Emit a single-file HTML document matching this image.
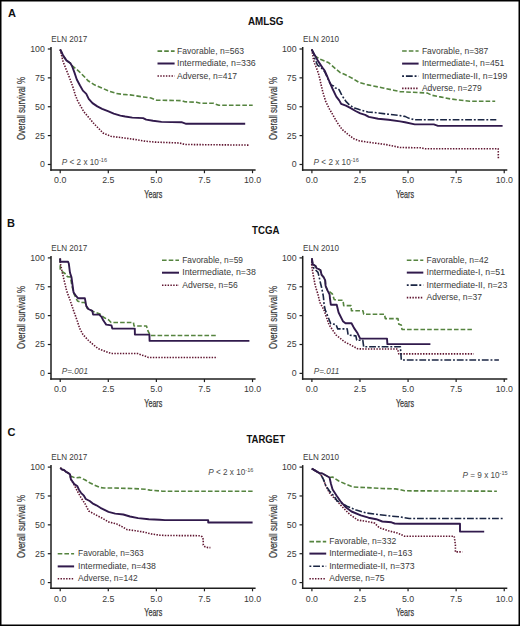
<!DOCTYPE html>
<html><head><meta charset="utf-8"><style>
html,body{margin:0;padding:0;background:#fff;}
svg{display:block;}
text{font-family:"Liberation Sans", sans-serif;}
.tk{font-size:8.8px;fill:#3a3a3a;}
.ttl{font-size:10.8px;fill:#3a3a3a;stroke:#3a3a3a;stroke-width:0.25px;}
.eln{font-size:8.7px;fill:#3a3a3a;}
.lg{font-size:8.5px;fill:#3a3a3a;}
.pv{font-size:8.2px;fill:#4a4a4a;}
.pl{font-size:11px;font-weight:bold;fill:#111;}
.tt{font-size:10.4px;font-weight:bold;fill:#111;}
</style></head><body>
<svg width="520" height="626" viewBox="0 0 520 626">
<rect x="0.75" y="0.75" width="518.5" height="624.5" fill="#fff" stroke="#000" stroke-width="1.5"/>
<text x="7.9" y="17.0" class="pl">A</text>
<text x="247.95" y="25.20" class="tt" textLength="35.5" lengthAdjust="spacingAndGlyphs">AMLSG</text>
<text x="6.9" y="226.6" class="pl">B</text>
<text x="252.00" y="234.10" class="tt" textLength="27.4" lengthAdjust="spacingAndGlyphs">TCGA</text>
<text x="7.6" y="436.3" class="pl">C</text>
<text x="246.40" y="443.30" class="tt" textLength="38.6" lengthAdjust="spacingAndGlyphs">TARGET</text>
<line x1="51" y1="47" x2="51" y2="170.85" stroke="#1e1e1e" stroke-width="1.5"/>
<line x1="50.25" y1="170.1" x2="255.6" y2="170.1" stroke="#1e1e1e" stroke-width="1.5"/>
<line x1="47.8" y1="49.00" x2="51" y2="49.00" stroke="#1e1e1e" stroke-width="1.2"/>
<text x="44.9" y="51.90" text-anchor="end" class="tk">100</text>
<line x1="47.8" y1="77.87" x2="51" y2="77.87" stroke="#1e1e1e" stroke-width="1.2"/>
<text x="44.9" y="80.77" text-anchor="end" class="tk">75</text>
<line x1="47.8" y1="106.74" x2="51" y2="106.74" stroke="#1e1e1e" stroke-width="1.2"/>
<text x="44.9" y="109.64" text-anchor="end" class="tk">50</text>
<line x1="47.8" y1="135.61" x2="51" y2="135.61" stroke="#1e1e1e" stroke-width="1.2"/>
<text x="44.9" y="138.51" text-anchor="end" class="tk">25</text>
<line x1="47.8" y1="164.48" x2="51" y2="164.48" stroke="#1e1e1e" stroke-width="1.2"/>
<text x="44.9" y="167.38" text-anchor="end" class="tk">0</text>
<line x1="60.20" y1="170.1" x2="60.20" y2="173.2" stroke="#1e1e1e" stroke-width="1.2"/>
<text x="60.20" y="183.40" text-anchor="middle" class="tk">0.0</text>
<line x1="108.28" y1="170.1" x2="108.28" y2="173.2" stroke="#1e1e1e" stroke-width="1.2"/>
<text x="108.28" y="183.40" text-anchor="middle" class="tk">2.5</text>
<line x1="156.36" y1="170.1" x2="156.36" y2="173.2" stroke="#1e1e1e" stroke-width="1.2"/>
<text x="156.36" y="183.40" text-anchor="middle" class="tk">5.0</text>
<line x1="204.44" y1="170.1" x2="204.44" y2="173.2" stroke="#1e1e1e" stroke-width="1.2"/>
<text x="204.44" y="183.40" text-anchor="middle" class="tk">7.5</text>
<line x1="252.52" y1="170.1" x2="252.52" y2="173.2" stroke="#1e1e1e" stroke-width="1.2"/>
<text x="252.52" y="183.40" text-anchor="middle" class="tk">10.0</text>
<text x="153.3" y="197.6" text-anchor="middle" class="ttl" textLength="18" lengthAdjust="spacingAndGlyphs">Years</text>
<text transform="translate(25.3,108.5) rotate(-90)" x="0" y="0" text-anchor="middle" class="ttl" textLength="63" lengthAdjust="spacingAndGlyphs">Overall survival %</text>
<text x="51.3" y="41.8" class="eln" textLength="36" lengthAdjust="spacingAndGlyphs">ELN 2017</text>
<line x1="302.7" y1="47" x2="302.7" y2="170.85" stroke="#1e1e1e" stroke-width="1.5"/>
<line x1="301.95" y1="170.1" x2="507.29999999999995" y2="170.1" stroke="#1e1e1e" stroke-width="1.5"/>
<line x1="299.5" y1="49.00" x2="302.7" y2="49.00" stroke="#1e1e1e" stroke-width="1.2"/>
<text x="296.59999999999997" y="51.90" text-anchor="end" class="tk">100</text>
<line x1="299.5" y1="77.87" x2="302.7" y2="77.87" stroke="#1e1e1e" stroke-width="1.2"/>
<text x="296.59999999999997" y="80.77" text-anchor="end" class="tk">75</text>
<line x1="299.5" y1="106.74" x2="302.7" y2="106.74" stroke="#1e1e1e" stroke-width="1.2"/>
<text x="296.59999999999997" y="109.64" text-anchor="end" class="tk">50</text>
<line x1="299.5" y1="135.61" x2="302.7" y2="135.61" stroke="#1e1e1e" stroke-width="1.2"/>
<text x="296.59999999999997" y="138.51" text-anchor="end" class="tk">25</text>
<line x1="299.5" y1="164.48" x2="302.7" y2="164.48" stroke="#1e1e1e" stroke-width="1.2"/>
<text x="296.59999999999997" y="167.38" text-anchor="end" class="tk">0</text>
<line x1="311.90" y1="170.1" x2="311.90" y2="173.2" stroke="#1e1e1e" stroke-width="1.2"/>
<text x="311.90" y="183.40" text-anchor="middle" class="tk">0.0</text>
<line x1="359.98" y1="170.1" x2="359.98" y2="173.2" stroke="#1e1e1e" stroke-width="1.2"/>
<text x="359.98" y="183.40" text-anchor="middle" class="tk">2.5</text>
<line x1="408.06" y1="170.1" x2="408.06" y2="173.2" stroke="#1e1e1e" stroke-width="1.2"/>
<text x="408.06" y="183.40" text-anchor="middle" class="tk">5.0</text>
<line x1="456.14" y1="170.1" x2="456.14" y2="173.2" stroke="#1e1e1e" stroke-width="1.2"/>
<text x="456.14" y="183.40" text-anchor="middle" class="tk">7.5</text>
<line x1="504.22" y1="170.1" x2="504.22" y2="173.2" stroke="#1e1e1e" stroke-width="1.2"/>
<text x="504.22" y="183.40" text-anchor="middle" class="tk">10.0</text>
<text x="405.0" y="197.6" text-anchor="middle" class="ttl" textLength="18" lengthAdjust="spacingAndGlyphs">Years</text>
<text transform="translate(277.0,108.5) rotate(-90)" x="0" y="0" text-anchor="middle" class="ttl" textLength="63" lengthAdjust="spacingAndGlyphs">Overall survival %</text>
<text x="303.0" y="41.8" class="eln" textLength="36" lengthAdjust="spacingAndGlyphs">ELN 2010</text>
<line x1="51" y1="255.9" x2="51" y2="379.75" stroke="#1e1e1e" stroke-width="1.5"/>
<line x1="50.25" y1="379.0" x2="255.6" y2="379.0" stroke="#1e1e1e" stroke-width="1.5"/>
<line x1="47.8" y1="257.90" x2="51" y2="257.90" stroke="#1e1e1e" stroke-width="1.2"/>
<text x="44.9" y="260.80" text-anchor="end" class="tk">100</text>
<line x1="47.8" y1="286.77" x2="51" y2="286.77" stroke="#1e1e1e" stroke-width="1.2"/>
<text x="44.9" y="289.67" text-anchor="end" class="tk">75</text>
<line x1="47.8" y1="315.64" x2="51" y2="315.64" stroke="#1e1e1e" stroke-width="1.2"/>
<text x="44.9" y="318.54" text-anchor="end" class="tk">50</text>
<line x1="47.8" y1="344.51" x2="51" y2="344.51" stroke="#1e1e1e" stroke-width="1.2"/>
<text x="44.9" y="347.41" text-anchor="end" class="tk">25</text>
<line x1="47.8" y1="373.38" x2="51" y2="373.38" stroke="#1e1e1e" stroke-width="1.2"/>
<text x="44.9" y="376.28" text-anchor="end" class="tk">0</text>
<line x1="60.20" y1="379.0" x2="60.20" y2="382.1" stroke="#1e1e1e" stroke-width="1.2"/>
<text x="60.20" y="392.30" text-anchor="middle" class="tk">0.0</text>
<line x1="108.28" y1="379.0" x2="108.28" y2="382.1" stroke="#1e1e1e" stroke-width="1.2"/>
<text x="108.28" y="392.30" text-anchor="middle" class="tk">2.5</text>
<line x1="156.36" y1="379.0" x2="156.36" y2="382.1" stroke="#1e1e1e" stroke-width="1.2"/>
<text x="156.36" y="392.30" text-anchor="middle" class="tk">5.0</text>
<line x1="204.44" y1="379.0" x2="204.44" y2="382.1" stroke="#1e1e1e" stroke-width="1.2"/>
<text x="204.44" y="392.30" text-anchor="middle" class="tk">7.5</text>
<line x1="252.52" y1="379.0" x2="252.52" y2="382.1" stroke="#1e1e1e" stroke-width="1.2"/>
<text x="252.52" y="392.30" text-anchor="middle" class="tk">10.0</text>
<text x="153.3" y="406.5" text-anchor="middle" class="ttl" textLength="18" lengthAdjust="spacingAndGlyphs">Years</text>
<text transform="translate(25.3,317.4) rotate(-90)" x="0" y="0" text-anchor="middle" class="ttl" textLength="63" lengthAdjust="spacingAndGlyphs">Overall survival %</text>
<text x="51.3" y="250.7" class="eln" textLength="36" lengthAdjust="spacingAndGlyphs">ELN 2017</text>
<line x1="302.7" y1="255.9" x2="302.7" y2="379.75" stroke="#1e1e1e" stroke-width="1.5"/>
<line x1="301.95" y1="379.0" x2="507.29999999999995" y2="379.0" stroke="#1e1e1e" stroke-width="1.5"/>
<line x1="299.5" y1="257.90" x2="302.7" y2="257.90" stroke="#1e1e1e" stroke-width="1.2"/>
<text x="296.59999999999997" y="260.80" text-anchor="end" class="tk">100</text>
<line x1="299.5" y1="286.77" x2="302.7" y2="286.77" stroke="#1e1e1e" stroke-width="1.2"/>
<text x="296.59999999999997" y="289.67" text-anchor="end" class="tk">75</text>
<line x1="299.5" y1="315.64" x2="302.7" y2="315.64" stroke="#1e1e1e" stroke-width="1.2"/>
<text x="296.59999999999997" y="318.54" text-anchor="end" class="tk">50</text>
<line x1="299.5" y1="344.51" x2="302.7" y2="344.51" stroke="#1e1e1e" stroke-width="1.2"/>
<text x="296.59999999999997" y="347.41" text-anchor="end" class="tk">25</text>
<line x1="299.5" y1="373.38" x2="302.7" y2="373.38" stroke="#1e1e1e" stroke-width="1.2"/>
<text x="296.59999999999997" y="376.28" text-anchor="end" class="tk">0</text>
<line x1="311.90" y1="379.0" x2="311.90" y2="382.1" stroke="#1e1e1e" stroke-width="1.2"/>
<text x="311.90" y="392.30" text-anchor="middle" class="tk">0.0</text>
<line x1="359.98" y1="379.0" x2="359.98" y2="382.1" stroke="#1e1e1e" stroke-width="1.2"/>
<text x="359.98" y="392.30" text-anchor="middle" class="tk">2.5</text>
<line x1="408.06" y1="379.0" x2="408.06" y2="382.1" stroke="#1e1e1e" stroke-width="1.2"/>
<text x="408.06" y="392.30" text-anchor="middle" class="tk">5.0</text>
<line x1="456.14" y1="379.0" x2="456.14" y2="382.1" stroke="#1e1e1e" stroke-width="1.2"/>
<text x="456.14" y="392.30" text-anchor="middle" class="tk">7.5</text>
<line x1="504.22" y1="379.0" x2="504.22" y2="382.1" stroke="#1e1e1e" stroke-width="1.2"/>
<text x="504.22" y="392.30" text-anchor="middle" class="tk">10.0</text>
<text x="405.0" y="406.5" text-anchor="middle" class="ttl" textLength="18" lengthAdjust="spacingAndGlyphs">Years</text>
<text transform="translate(277.0,317.4) rotate(-90)" x="0" y="0" text-anchor="middle" class="ttl" textLength="63" lengthAdjust="spacingAndGlyphs">Overall survival %</text>
<text x="303.0" y="250.7" class="eln" textLength="36" lengthAdjust="spacingAndGlyphs">ELN 2010</text>
<line x1="51" y1="465.1" x2="51" y2="588.95" stroke="#1e1e1e" stroke-width="1.5"/>
<line x1="50.25" y1="588.2" x2="255.6" y2="588.2" stroke="#1e1e1e" stroke-width="1.5"/>
<line x1="47.8" y1="467.10" x2="51" y2="467.10" stroke="#1e1e1e" stroke-width="1.2"/>
<text x="44.9" y="470.00" text-anchor="end" class="tk">100</text>
<line x1="47.8" y1="495.97" x2="51" y2="495.97" stroke="#1e1e1e" stroke-width="1.2"/>
<text x="44.9" y="498.87" text-anchor="end" class="tk">75</text>
<line x1="47.8" y1="524.84" x2="51" y2="524.84" stroke="#1e1e1e" stroke-width="1.2"/>
<text x="44.9" y="527.74" text-anchor="end" class="tk">50</text>
<line x1="47.8" y1="553.71" x2="51" y2="553.71" stroke="#1e1e1e" stroke-width="1.2"/>
<text x="44.9" y="556.61" text-anchor="end" class="tk">25</text>
<line x1="47.8" y1="582.58" x2="51" y2="582.58" stroke="#1e1e1e" stroke-width="1.2"/>
<text x="44.9" y="585.48" text-anchor="end" class="tk">0</text>
<line x1="60.20" y1="588.2" x2="60.20" y2="591.3" stroke="#1e1e1e" stroke-width="1.2"/>
<text x="60.20" y="601.50" text-anchor="middle" class="tk">0.0</text>
<line x1="108.28" y1="588.2" x2="108.28" y2="591.3" stroke="#1e1e1e" stroke-width="1.2"/>
<text x="108.28" y="601.50" text-anchor="middle" class="tk">2.5</text>
<line x1="156.36" y1="588.2" x2="156.36" y2="591.3" stroke="#1e1e1e" stroke-width="1.2"/>
<text x="156.36" y="601.50" text-anchor="middle" class="tk">5.0</text>
<line x1="204.44" y1="588.2" x2="204.44" y2="591.3" stroke="#1e1e1e" stroke-width="1.2"/>
<text x="204.44" y="601.50" text-anchor="middle" class="tk">7.5</text>
<line x1="252.52" y1="588.2" x2="252.52" y2="591.3" stroke="#1e1e1e" stroke-width="1.2"/>
<text x="252.52" y="601.50" text-anchor="middle" class="tk">10.0</text>
<text x="153.3" y="615.7" text-anchor="middle" class="ttl" textLength="18" lengthAdjust="spacingAndGlyphs">Years</text>
<text transform="translate(25.3,526.6) rotate(-90)" x="0" y="0" text-anchor="middle" class="ttl" textLength="63" lengthAdjust="spacingAndGlyphs">Overall survival %</text>
<text x="51.3" y="459.90000000000003" class="eln" textLength="36" lengthAdjust="spacingAndGlyphs">ELN 2017</text>
<line x1="302.7" y1="465.1" x2="302.7" y2="588.95" stroke="#1e1e1e" stroke-width="1.5"/>
<line x1="301.95" y1="588.2" x2="507.29999999999995" y2="588.2" stroke="#1e1e1e" stroke-width="1.5"/>
<line x1="299.5" y1="467.10" x2="302.7" y2="467.10" stroke="#1e1e1e" stroke-width="1.2"/>
<text x="296.59999999999997" y="470.00" text-anchor="end" class="tk">100</text>
<line x1="299.5" y1="495.97" x2="302.7" y2="495.97" stroke="#1e1e1e" stroke-width="1.2"/>
<text x="296.59999999999997" y="498.87" text-anchor="end" class="tk">75</text>
<line x1="299.5" y1="524.84" x2="302.7" y2="524.84" stroke="#1e1e1e" stroke-width="1.2"/>
<text x="296.59999999999997" y="527.74" text-anchor="end" class="tk">50</text>
<line x1="299.5" y1="553.71" x2="302.7" y2="553.71" stroke="#1e1e1e" stroke-width="1.2"/>
<text x="296.59999999999997" y="556.61" text-anchor="end" class="tk">25</text>
<line x1="299.5" y1="582.58" x2="302.7" y2="582.58" stroke="#1e1e1e" stroke-width="1.2"/>
<text x="296.59999999999997" y="585.48" text-anchor="end" class="tk">0</text>
<line x1="311.90" y1="588.2" x2="311.90" y2="591.3" stroke="#1e1e1e" stroke-width="1.2"/>
<text x="311.90" y="601.50" text-anchor="middle" class="tk">0.0</text>
<line x1="359.98" y1="588.2" x2="359.98" y2="591.3" stroke="#1e1e1e" stroke-width="1.2"/>
<text x="359.98" y="601.50" text-anchor="middle" class="tk">2.5</text>
<line x1="408.06" y1="588.2" x2="408.06" y2="591.3" stroke="#1e1e1e" stroke-width="1.2"/>
<text x="408.06" y="601.50" text-anchor="middle" class="tk">5.0</text>
<line x1="456.14" y1="588.2" x2="456.14" y2="591.3" stroke="#1e1e1e" stroke-width="1.2"/>
<text x="456.14" y="601.50" text-anchor="middle" class="tk">7.5</text>
<line x1="504.22" y1="588.2" x2="504.22" y2="591.3" stroke="#1e1e1e" stroke-width="1.2"/>
<text x="504.22" y="601.50" text-anchor="middle" class="tk">10.0</text>
<text x="405.0" y="615.7" text-anchor="middle" class="ttl" textLength="18" lengthAdjust="spacingAndGlyphs">Years</text>
<text transform="translate(277.0,526.6) rotate(-90)" x="0" y="0" text-anchor="middle" class="ttl" textLength="63" lengthAdjust="spacingAndGlyphs">Overall survival %</text>
<text x="303.0" y="459.90000000000003" class="eln" textLength="36" lengthAdjust="spacingAndGlyphs">ELN 2010</text>
<polyline points="60.2,49.5 61.5,52.0 63.2,55.6 66.4,60.4 70.4,63.2 72.0,65.6 79.2,71.6 85.6,78.0 87.7,80.5 94.4,84.8 101.2,87.7 108.8,91.1 116.5,93.5 123.3,94.4 130.0,94.9 143.5,97.0 151.0,98.0 156.3,100.1 181.7,100.7 184.9,101.8 196.5,102.2 200.8,103.3 213.5,103.3 218.8,105.3 252.7,105.3" fill="none" stroke="#55843f" stroke-width="1.6" stroke-dasharray="4.6,2.1" stroke-linejoin="round"/>
<polyline points="60.2,49.5 60.8,52.4 63.2,62.0 66.4,70.0 69.6,78.0 72.8,86.7 75.2,94.7 77.5,100.5 80.0,105.0 83.8,111.7 89.6,118.5 94.4,124.2 99.2,129.0 103.0,133.0 110.8,136.3 122.3,137.7 135.8,139.6 145.4,141.2 155.0,142.1 179.6,143.0 184.9,144.5 248.8,145.1" fill="none" stroke="#601631" stroke-width="1.6" stroke-dasharray="1.45,1.35" stroke-linejoin="round"/>
<polyline points="60.2,49.5 61.5,52.0 63.2,55.6 66.4,60.4 70.4,63.2 72.0,66.0 74.4,72.4 76.8,79.5 80.0,85.5 82.9,90.6 86.3,93.9 88.7,98.8 92.5,103.1 97.3,106.4 102.1,108.8 107.9,111.2 113.7,113.7 120.4,115.6 125.2,116.5 132.3,117.6 143.1,118.1 146.2,119.6 153.0,120.8 161.5,121.9 181.5,122.2 186.2,123.8 245.2,123.8" fill="none" stroke="#311a4c" stroke-width="1.9" stroke-linejoin="round"/>
<polyline points="311.7,49.5 313.5,53.0 315.6,56.4 320.0,59.2 324.0,60.8 328.8,62.8 332.0,65.6 336.0,69.2 340.0,72.4 345.5,74.8 352.7,78.5 359.1,82.5 367.9,84.9 381.9,87.7 393.5,90.2 400.0,91.6 427.5,93.1 431.7,95.2 440.2,96.9 450.8,99.0 469.8,101.2 495.2,101.2" fill="none" stroke="#55843f" stroke-width="1.6" stroke-dasharray="4.6,2.1" stroke-linejoin="round"/>
<polyline points="311.7,49.5 312.5,54.0 313.2,58.0 314.0,62.0 316.0,66.8 318.4,73.2 320.0,79.5 320.9,84.0 322.8,92.0 325.7,101.4 329.5,109.1 333.4,115.8 337.2,122.5 342.0,129.3 346.9,133.5 353.8,138.8 359.6,140.9 368.8,142.3 378.1,143.5 386.2,144.6 394.2,146.3 400.0,147.5 421.0,147.8 425.0,148.8 498.2,148.8 498.4,159.3" fill="none" stroke="#601631" stroke-width="1.6" stroke-dasharray="1.45,1.35" stroke-linejoin="round"/>
<polyline points="311.7,49.5 313.5,53.0 314.8,58.5 317.6,65.2 319.5,66.5 322.4,68.8 324.8,72.0 327.2,77.2 329.6,82.5 331.2,85.1 333.6,86.0 335.3,87.9 337.6,88.5 339.2,89.8 342.0,95.6 345.9,101.4 349.7,105.2 354.5,108.1 359.3,109.6 364.2,111.0 368.0,112.0 374.6,112.5 386.2,114.0 397.7,115.2 402.0,116.0 405.0,116.4 408.5,118.1 414.8,119.8 496.3,119.8" fill="none" stroke="#1b2644" stroke-width="1.6" stroke-dasharray="6.8,1.9,1.9,1.9" stroke-linejoin="round"/>
<polyline points="311.7,49.5 313.5,53.0 315.6,56.4 317.6,60.4 322.4,67.6 324.8,70.8 327.2,76.4 329.6,82.0 332.4,88.5 336.3,96.6 339.2,100.4 341.1,103.8 345.9,105.7 350.7,108.1 355.5,111.0 360.3,113.4 365.1,114.8 368.8,116.9 378.1,118.7 388.5,119.8 400.0,121.4 405.0,122.3 414.8,124.4 433.8,124.4 438.0,125.9 502.6,125.9" fill="none" stroke="#311a4c" stroke-width="1.9" stroke-linejoin="round"/>
<line x1="157.5" y1="51.1" x2="174.6" y2="51.1" stroke="#55843f" stroke-width="1.6" stroke-dasharray="4.6,2.1"/>
<text x="177.0" y="53.60" class="lg" textLength="67" lengthAdjust="spacingAndGlyphs">Favorable, n=563</text>
<line x1="157.5" y1="63.5" x2="174.6" y2="63.5" stroke="#311a4c" stroke-width="2.0"/>
<text x="177.0" y="66.00" class="lg" textLength="78.8" lengthAdjust="spacingAndGlyphs">Intermediate, n=336</text>
<line x1="157.5" y1="76.05" x2="174.6" y2="76.05" stroke="#601631" stroke-width="1.6" stroke-dasharray="1.45,1.35"/>
<text x="177.0" y="78.55" class="lg" textLength="60" lengthAdjust="spacingAndGlyphs">Adverse, n=417</text>
<line x1="402.1" y1="51.0" x2="418.6" y2="51.0" stroke="#55843f" stroke-width="1.6" stroke-dasharray="4.6,2.1"/>
<text x="421.9" y="53.50" class="lg" textLength="66.4" lengthAdjust="spacingAndGlyphs">Favorable, n=387</text>
<line x1="402.1" y1="63.6" x2="418.6" y2="63.6" stroke="#311a4c" stroke-width="2.0"/>
<text x="421.9" y="66.10" class="lg" textLength="82.5" lengthAdjust="spacingAndGlyphs">Intermediate-I, n=451</text>
<line x1="402.1" y1="76.1" x2="418.6" y2="76.1" stroke="#1b2644" stroke-width="1.6" stroke-dasharray="6.8,1.9,1.9,1.9" stroke-dashoffset="8.7"/>
<text x="421.9" y="78.60" class="lg" textLength="85.4" lengthAdjust="spacingAndGlyphs">Intermediate-II, n=199</text>
<line x1="402.1" y1="88.4" x2="418.6" y2="88.4" stroke="#601631" stroke-width="1.6" stroke-dasharray="1.45,1.35"/>
<text x="421.9" y="90.90" class="lg" textLength="59.8" lengthAdjust="spacingAndGlyphs">Adverse, n=279</text>
<text x="61.8" y="165.0" class="pv"><tspan font-style="italic">P</tspan> &lt; 2 x 10<tspan dy="-3" font-size="5.6">-16</tspan></text>
<text x="313.6" y="165.0" class="pv"><tspan font-style="italic">P</tspan> &lt; 2 x 10<tspan dy="-3" font-size="5.6">-16</tspan></text>
<polyline points="60.2,258.5 60.2,269.0 62.0,271.5 65.0,273.5 67.3,276.6 70.4,277.0 72.0,286.0 74.0,294.0 77.5,301.0 82.0,302.5 85.0,302.5 87.0,308.0 93.0,311.5 100.0,314.0 104.4,317.8 108.5,319.8 111.1,322.5 133.5,322.5 134.0,326.0 146.5,326.0 148.0,331.0 150.4,335.5 217.7,335.5" fill="none" stroke="#55843f" stroke-width="1.6" stroke-dasharray="4.6,2.1" stroke-linejoin="round"/>
<polyline points="60.2,258.5 60.5,264.0 62.0,271.0 64.0,280.0 66.7,291.0 70.0,300.0 73.5,310.4 77.3,321.0 79.5,328.0 83.0,334.6 88.0,340.0 92.7,344.2 98.0,348.5 105.4,351.5 111.5,353.5 137.7,353.5 141.0,354.8 145.4,356.2 148.5,357.5 217.3,357.5" fill="none" stroke="#601631" stroke-width="1.6" stroke-dasharray="1.45,1.35" stroke-linejoin="round"/>
<polyline points="60.2,258.5 60.2,261.8 68.1,261.8 68.8,263.5 70.0,272.8 71.5,277.4 73.5,292.2 76.2,296.2 78.2,298.3 84.9,298.3 86.2,305.7 88.3,309.0 92.3,310.8 93.1,314.6 99.2,314.6 101.5,316.9 103.1,320.0 104.6,322.3 106.2,324.6 111.5,325.4 112.3,328.6 134.8,328.6 134.9,334.6 149.4,334.6 149.6,340.9 249.4,340.9" fill="none" stroke="#311a4c" stroke-width="1.9" stroke-linejoin="round"/>
<polyline points="311.9,258.5 312.8,264.4 315.6,266.0 316.4,268.0 320.4,270.0 321.6,274.8 323.6,277.2 325.2,280.4 325.6,286.0 327.6,290.5 329.2,291.5 332.4,294.0 334.2,299.5 336.4,300.3 343.0,300.3 343.7,305.6 351.0,305.6 351.5,310.8 363.0,310.8 363.7,314.2 384.5,314.2 385.3,318.6 398.0,318.6 398.8,324.2 401.3,325.0 402.0,329.5 471.9,329.5" fill="none" stroke="#55843f" stroke-width="1.6" stroke-dasharray="4.6,2.1" stroke-linejoin="round"/>
<polyline points="311.9,258.5 311.7,264.4 312.4,270.0 313.2,274.8 314.0,278.8 314.8,283.6 316.0,288.3 317.6,293.1 318.8,297.9 320.0,302.7 323.8,309.5 329.0,324.6 336.0,335.0 344.6,341.9 351.5,345.4 357.6,348.8 367.0,349.0 397.5,349.0 398.8,353.9 473.8,353.9" fill="none" stroke="#601631" stroke-width="1.6" stroke-dasharray="1.45,1.35" stroke-linejoin="round"/>
<polyline points="311.9,258.5 312.4,264.0 314.0,268.4 318.0,272.4 319.2,277.2 320.4,282.8 321.6,287.5 323.2,295.5 323.6,298.7 324.0,304.0 325.2,309.9 330.8,323.7 336.0,324.6 337.7,328.9 347.2,328.9 348.1,335.0 355.9,335.9 356.7,340.2 362.8,340.2 363.7,346.8 400.4,346.8 401.3,360.0 498.9,360.0" fill="none" stroke="#1b2644" stroke-width="1.6" stroke-dasharray="6.8,1.9,1.9,1.9" stroke-linejoin="round"/>
<polyline points="311.9,258.5 312.8,264.4 315.6,266.0 316.4,268.0 320.4,270.0 321.6,274.8 323.6,277.2 325.2,280.4 325.6,286.0 327.6,290.7 329.6,294.7 330.0,298.7 330.8,304.7 336.7,304.7 338.6,312.5 342.9,321.2 345.5,323.2 351.5,323.2 354.1,328.1 357.6,333.3 360.2,338.6 387.0,338.6 387.4,344.1 430.4,344.1" fill="none" stroke="#311a4c" stroke-width="1.9" stroke-linejoin="round"/>
<line x1="162.0" y1="260.2" x2="179.0" y2="260.2" stroke="#55843f" stroke-width="1.6" stroke-dasharray="4.6,2.1"/>
<text x="182.2" y="262.70" class="lg" textLength="60.8" lengthAdjust="spacingAndGlyphs">Favorable, n=59</text>
<line x1="162.0" y1="272.7" x2="179.0" y2="272.7" stroke="#311a4c" stroke-width="2.0"/>
<text x="182.2" y="275.20" class="lg" textLength="73.6" lengthAdjust="spacingAndGlyphs">Intermediate, n=38</text>
<line x1="162.0" y1="285.2" x2="179.0" y2="285.2" stroke="#601631" stroke-width="1.6" stroke-dasharray="1.45,1.35"/>
<text x="182.2" y="287.70" class="lg" textLength="55.6" lengthAdjust="spacingAndGlyphs">Adverse, n=56</text>
<line x1="406.8" y1="260.2" x2="423.3" y2="260.2" stroke="#55843f" stroke-width="1.6" stroke-dasharray="4.6,2.1"/>
<text x="426.5" y="262.70" class="lg" textLength="61.9" lengthAdjust="spacingAndGlyphs">Favorable, n=42</text>
<line x1="406.8" y1="272.6" x2="423.3" y2="272.6" stroke="#311a4c" stroke-width="2.0"/>
<text x="426.5" y="275.10" class="lg" textLength="78.5" lengthAdjust="spacingAndGlyphs">Intermediate-I, n=51</text>
<line x1="406.8" y1="285.1" x2="423.3" y2="285.1" stroke="#1b2644" stroke-width="1.6" stroke-dasharray="6.8,1.9,1.9,1.9" stroke-dashoffset="8.7"/>
<text x="426.5" y="287.60" class="lg" textLength="80.8" lengthAdjust="spacingAndGlyphs">Intermediate-II, n=23</text>
<line x1="406.8" y1="297.6" x2="423.3" y2="297.6" stroke="#601631" stroke-width="1.6" stroke-dasharray="1.45,1.35"/>
<text x="426.5" y="300.10" class="lg" textLength="55.5" lengthAdjust="spacingAndGlyphs">Adverse, n=37</text>
<text x="61.8" y="373.8" class="pv" font-style="italic">P=.001</text>
<text x="313.8" y="374.2" class="pv" font-style="italic">P=.011</text>
<polyline points="60.3,467.8 62.0,469.5 64.0,470.0 66.0,471.8 68.5,473.1 70.0,474.5 70.4,476.0 75.2,477.9 80.0,477.4 84.8,479.8 89.7,482.7 94.5,485.1 100.2,487.5 104.0,488.0 112.7,488.0 131.9,488.5 145.4,489.3 150.0,490.1 162.7,491.2 252.6,491.2" fill="none" stroke="#55843f" stroke-width="1.6" stroke-dasharray="4.6,2.1" stroke-linejoin="round"/>
<polyline points="60.3,467.8 62.0,469.5 64.0,470.0 66.0,471.8 68.5,473.1 70.0,474.5 70.9,479.3 74.3,485.1 77.2,490.8 81.0,497.6 84.8,503.3 88.7,511.0 95.0,514.5 101.7,517.9 108.5,521.9 116.5,523.9 121.9,526.6 127.3,529.7 135.4,530.7 143.5,532.0 151.5,534.0 159.6,535.1 165.0,535.5 200.3,535.7 202.3,536.8 203.2,539.4 203.3,545.0 205.2,546.9 208.1,547.6 210.4,547.6" fill="none" stroke="#601631" stroke-width="1.6" stroke-dasharray="1.45,1.35" stroke-linejoin="round"/>
<polyline points="60.3,467.8 62.0,469.5 64.0,470.0 66.0,471.8 68.5,473.1 70.0,474.5 70.9,479.3 74.3,484.1 77.2,486.0 79.1,489.9 81.0,492.8 83.9,495.7 85.8,499.0 89.7,501.0 92.5,503.3 96.4,505.3 100.4,507.8 108.5,511.8 115.2,513.6 123.3,514.5 130.0,516.5 138.1,518.1 148.8,519.2 159.6,519.7 165.0,520.1 208.2,520.1 208.2,522.5 252.6,522.5" fill="none" stroke="#311a4c" stroke-width="1.9" stroke-linejoin="round"/>
<polyline points="311.8,468.6 320.3,473.6 322.0,473.2 329.5,477.5 332.6,477.0 338.8,481.0 347.2,484.8 353.1,487.0 366.5,487.6 381.9,488.5 395.4,488.9 400.0,489.6 404.6,490.8 496.9,491.2" fill="none" stroke="#55843f" stroke-width="1.6" stroke-dasharray="4.6,2.1" stroke-linejoin="round"/>
<polyline points="311.8,468.6 320.3,473.6 323.4,479.4 325.7,485.5 330.0,493.8 336.2,500.0 342.3,506.9 350.0,514.6 357.7,520.0 366.9,521.5 374.6,523.1 379.2,527.7 388.5,530.8 397.7,533.1 404.6,536.2 454.2,536.2 455.4,545.0 455.4,551.9 462.3,551.9" fill="none" stroke="#601631" stroke-width="1.6" stroke-dasharray="1.45,1.35" stroke-linejoin="round"/>
<polyline points="311.8,468.6 320.3,473.6 323.4,479.4 325.7,485.5 329.5,491.0 334.2,496.3 337.2,501.0 339.2,501.8 346.9,506.2 356.2,510.0 366.9,513.1 379.2,514.6 391.5,516.2 400.0,516.9 409.2,518.5 503.9,518.5" fill="none" stroke="#1b2644" stroke-width="1.6" stroke-dasharray="6.8,1.9,1.9,1.9" stroke-linejoin="round"/>
<polyline points="311.8,468.6 320.3,473.6 322.0,473.2 329.5,477.5 331.0,484.0 332.6,489.4 336.5,495.5 340.3,501.0 345.4,506.9 351.5,511.5 360.8,515.4 368.5,517.7 376.2,519.2 382.3,521.5 391.5,522.3 394.6,523.5 400.0,523.8 460.0,523.8 460.0,531.6 484.2,531.6" fill="none" stroke="#311a4c" stroke-width="1.9" stroke-linejoin="round"/>
<line x1="57.7" y1="553.8" x2="74.1" y2="553.8" stroke="#55843f" stroke-width="1.6" stroke-dasharray="4.6,2.1"/>
<text x="78.1" y="556.30" class="lg" textLength="65.7" lengthAdjust="spacingAndGlyphs">Favorable, n=363</text>
<line x1="57.7" y1="566.4" x2="74.1" y2="566.4" stroke="#311a4c" stroke-width="2.0"/>
<text x="78.1" y="568.90" class="lg" textLength="77.8" lengthAdjust="spacingAndGlyphs">Intermediate, n=438</text>
<line x1="57.7" y1="578.8" x2="74.1" y2="578.8" stroke="#601631" stroke-width="1.6" stroke-dasharray="1.45,1.35"/>
<text x="78.1" y="581.30" class="lg" textLength="59.5" lengthAdjust="spacingAndGlyphs">Adverse, n=142</text>
<line x1="309.4" y1="541.6" x2="326.2" y2="541.6" stroke="#55843f" stroke-width="1.6" stroke-dasharray="4.6,2.1"/>
<text x="329.2" y="544.10" class="lg" textLength="67.0" lengthAdjust="spacingAndGlyphs">Favorable, n=332</text>
<line x1="309.4" y1="553.6" x2="326.2" y2="553.6" stroke="#311a4c" stroke-width="2.0"/>
<text x="329.2" y="556.10" class="lg" textLength="83.1" lengthAdjust="spacingAndGlyphs">Intermediate-I, n=163</text>
<line x1="309.4" y1="566.3" x2="326.2" y2="566.3" stroke="#1b2644" stroke-width="1.6" stroke-dasharray="6.8,1.9,1.9,1.9" stroke-dashoffset="8.7"/>
<text x="329.2" y="568.80" class="lg" textLength="85.4" lengthAdjust="spacingAndGlyphs">Intermediate-II, n=373</text>
<line x1="309.4" y1="578.7" x2="326.2" y2="578.7" stroke="#601631" stroke-width="1.6" stroke-dasharray="1.45,1.35"/>
<text x="329.2" y="581.20" class="lg" textLength="55.4" lengthAdjust="spacingAndGlyphs">Adverse, n=75</text>
<text x="208.2" y="474.6" class="pv"><tspan font-style="italic">P</tspan> &lt; 2 x 10<tspan dy="-3" font-size="5.6">-16</tspan></text>
<text x="462.5" y="477.8" class="pv"><tspan font-style="italic">P</tspan> = 9 x 10<tspan dy="-3" font-size="5.6">-15</tspan></text>
</svg>
</body></html>
